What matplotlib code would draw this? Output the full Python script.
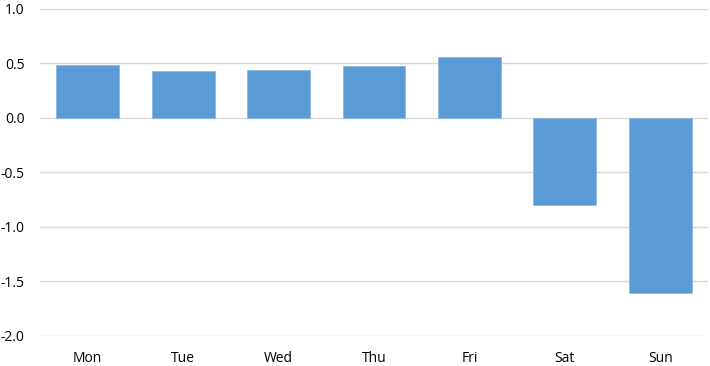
import matplotlib
matplotlib.use("Agg")
import matplotlib.pyplot as plt

days = ["Mon", "Tue", "Wed", "Thu", "Fri", "Sat", "Sun"]
values = [0.49, 0.427, 0.436, 0.473, 0.559, -0.80, -1.61]
yticks = [1.0, 0.5, 0.0, -0.5, -1.0, -1.5, -2.0]

plt.rcParams['font.family'] = ['Open Sans', 'DejaVu Sans']

fig = plt.figure(figsize=(7.1, 3.66), dpi=100)
ax = fig.add_axes([40 / 710, 1 - 335.7 / 366, 668 / 710, (335.7 - 9) / 366])

x = range(len(days))
ax.bar(x, values, width=0.66, color='#5B9BD5', edgecolor='#8DB8E3', linewidth=0.6, zorder=3)

ax.set_ylim(-2.0, 1.0)
ax.set_xlim(-0.5, len(days) - 0.5)
ax.set_yticks(yticks)
ax.set_yticklabels([f"{t:.1f}" for t in yticks])
ax.set_xticks(list(x))
ax.set_xticklabels(days)
ax.grid(axis='y', color='#D9D9D9', linewidth=1.0, zorder=0)
for s in ax.spines.values():
    s.set_visible(False)
ax.tick_params(axis='both', length=0, labelsize=10, colors='#000000')
ax.tick_params(axis='y', pad=11)
ax.tick_params(axis='x', pad=11)

fig.savefig("out.png", dpi=100)
